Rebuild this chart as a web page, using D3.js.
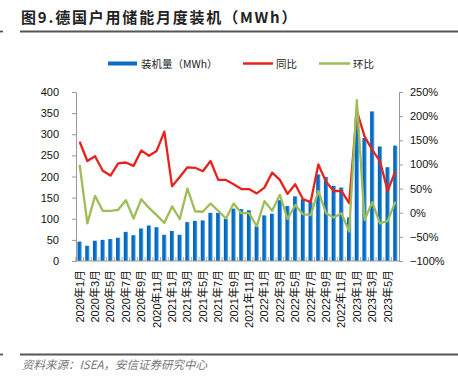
<!DOCTYPE html>
<html>
<head>
<meta charset="utf-8">
<script src="https://cdn.jsdelivr.net/npm/d3@7"></script>
<style>
  body { margin: 0; background: #fff; }
  svg { display: block; }
  .axis text { font-family: "Liberation Sans", Arial, sans-serif; font-size: 11px; fill: #111; }
  .axis path, .axis line { stroke: #999; }
</style>
</head>
<body>
<script>
// months 2020-01 .. 2023-06
var months = [];
[2020, 2021, 2022, 2023].forEach(function(y) {
  for (var m = 1; m <= 12; m++) {
    if (y === 2023 && m > 6) break;
    months.push(y + "年" + m + "月");
  }
});

// 装机量 (MWh)
var installs = [46, 36, 48, 50, 52, 55, 69, 61, 77, 84, 80, 62,
                71, 62, 92, 95, 96, 114, 114, 100, 124, 123, 120, 82,
                108, 112, 144, 130, 153, 146, 140, 205, 199, 178, 174, 103,
                340, 291, 354, 271, 222, 273];
// 同比 (%)
var yoy = [147, 107, 117, 87, 77, 102, 104, 97, 129, 118, 128, 168,
           55, 74, 94, 93, 86, 107, 68, 68, 59, 49, 49, 40,
           52, 83, 68, 39, 59, 28, 22, 100, 64, 45, 45, 20,
           211, 158, 130, 107, 45, 86];
// 环比 (%)
var mom = [99, -22, 35, 4, 4, 6, 26, -12, 28, 10, -5, -21,
           13, -13, 50, 3, 2, 19, 4, -12, 19, -1, -1, -28,
           24, 4, 37, -13, 16, -3, -5, 45, -1, -10, -1, -39,
           233, -15, 22, -22, -17, 23];

var leftTicks = [0, 50, 100, 150, 200, 250, 300, 350, 400];
var rightTicks = [-100, -50, 0, 50, 100, 150, 200, 250];

var W = 458, H = 385;
var svg = d3.select("body").append("svg").attr("width", W).attr("height", H);

var defs = svg.append("defs");
var grad = defs.append("linearGradient").attr("id", "barGrad")
  .attr("x1", "0%").attr("x2", "100%").attr("y1", "0%").attr("y2", "0%");
grad.append("stop").attr("offset", "0%").attr("stop-color", "#0060b8");
grad.append("stop").attr("offset", "65%").attr("stop-color", "#0a74cc");
grad.append("stop").attr("offset", "100%").attr("stop-color", "#7db6e6");

// title
svg.append("text")
  .attr("x", 21).attr("y", 23)
  .style("font-family", "'Noto Sans CJK SC', sans-serif")
  .style("font-size", "15px").style("font-weight", "bold")
  .style("letter-spacing", "1.8px")
  .attr("fill", "#222")
  .text("图9.德国户用储能月度装机（MWh）");
svg.append("line").attr("x1", 20).attr("x2", W).attr("y1", 31.5).attr("y2", 31.5)
  .attr("stroke", "#555").attr("stroke-width", 1.8);
svg.append("line").attr("x1", 0).attr("x2", 3).attr("y1", 31.5).attr("y2", 31.5)
  .attr("stroke", "#555").attr("stroke-width", 1.8);

// scales
var x = d3.scaleBand().domain(months).range([76, 399]).paddingInner(0.45).paddingOuter(0.2);
var yL = d3.scaleLinear().domain([0, 400]).range([261, 92]);
var yR = d3.scaleLinear().domain([-100, 250]).range([261, 92]);

// bars
svg.append("g").selectAll("rect").data(installs).enter().append("rect")
  .attr("x", function(d, i) { return x(months[i]); })
  .attr("y", function(d) { return yL(d); })
  .attr("width", x.bandwidth())
  .attr("height", function(d) { return yL(0) - yL(d); })
  .attr("fill", "url(#barGrad)");

// x baseline and small ticks between bars
svg.append("line").attr("x1", 76).attr("x2", 399).attr("y1", 261).attr("y2", 261)
  .attr("stroke", "#999");
svg.append("g").selectAll("line").data(months).enter().append("line")
  .attr("x1", function(d) { return x(d) - x.step() * x.paddingInner() / 2; })
  .attr("x2", function(d) { return x(d) - x.step() * x.paddingInner() / 2; })
  .attr("y1", 261).attr("y2", 257)
  .attr("stroke", "#aaa");

// x labels (every other month)
svg.append("g").selectAll("text").data(months.filter(function(d, i) { return i % 2 === 0; }))
  .enter().append("text")
  .attr("transform", function(d) { return "translate(" + (x(d) + x.bandwidth() / 2) + ",270) rotate(-90)"; })
  .attr("text-anchor", "end")
  .attr("dominant-baseline", "central")
  .style("font-family", "'Liberation Sans', 'Noto Sans CJK SC', sans-serif")
  .style("font-size", "11px")
  .attr("fill", "#111")
  .text(function(d) { return d; });

// lines
var cx = function(d, i) { return x(months[i]) + x.bandwidth() / 2; };
var lineR = d3.line().x(cx).y(function(d) { return yR(d); });

svg.append("path").datum(yoy).attr("d", lineR)
  .attr("fill", "none").attr("stroke", "#e8231d").attr("stroke-width", 2.3)
  .attr("stroke-linejoin", "round");
svg.append("path").datum(mom).attr("d", lineR)
  .attr("fill", "none").attr("stroke", "#9cbd58").attr("stroke-width", 2.3)
  .attr("stroke-linejoin", "round");

// axes
var gL = svg.append("g").attr("class", "axis").attr("transform", "translate(76,0)")
  .call(d3.axisLeft(yL).tickValues(leftTicks).tickSize(4).tickSizeOuter(0).tickPadding(13));
var gR = svg.append("g").attr("class", "axis").attr("transform", "translate(399,0)")
  .call(d3.axisRight(yR).tickValues(rightTicks).tickSize(4).tickSizeOuter(0).tickPadding(7)
    .tickFormat(function(d) { return (d < 0 ? "\u2212" + (-d) : d) + "%"; }));

// legend
var lg = svg.append("g")
  .style("font-family", "'Noto Sans CJK SC', sans-serif").style("font-size", "10.5px");
lg.append("rect").attr("x", 108).attr("y", 61.5).attr("width", 29).attr("height", 4).attr("fill", "#0a6cc4");
lg.append("text").attr("x", 141).attr("y", 67.5).attr("fill", "#222").text("装机量（MWh）");
lg.append("line").attr("x1", 243).attr("x2", 273).attr("y1", 63.5).attr("y2", 63.5)
  .attr("stroke", "#e8231d").attr("stroke-width", 2.5);
lg.append("text").attr("x", 276).attr("y", 67.5).attr("fill", "#222").text("同比");
lg.append("line").attr("x1", 319).attr("x2", 350).attr("y1", 63.5).attr("y2", 63.5)
  .attr("stroke", "#9cbd58").attr("stroke-width", 2.5);
lg.append("text").attr("x", 353).attr("y", 67.5).attr("fill", "#222").text("环比");

// source
svg.append("line").attr("x1", 20).attr("x2", W).attr("y1", 354.5).attr("y2", 354.5)
  .attr("stroke", "#555").attr("stroke-width", 1.8);
svg.append("line").attr("x1", 0).attr("x2", 3).attr("y1", 354.5).attr("y2", 354.5)
  .attr("stroke", "#555").attr("stroke-width", 1.8);
svg.append("text").attr("x", 22).attr("y", 369)
  .style("font-family", "'Noto Sans CJK SC', sans-serif")
  .style("font-size", "11.5px").style("font-style", "italic")
  .attr("fill", "#777")
  .text("资料来源：ISEA，安信证券研究中心");
</script>
</body>
</html>
